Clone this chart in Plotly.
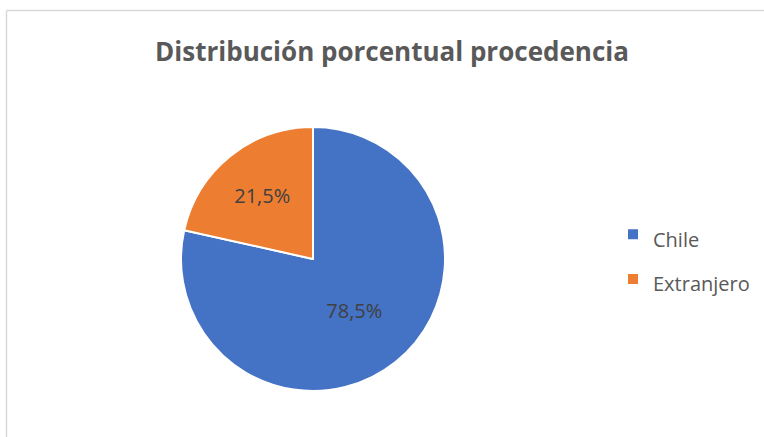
import plotly.graph_objects as go

labels = ["Chile", "Extranjero"]
values = [78.5, 21.5]
colors = ["#4472C4", "#ED7D31"]
title_text = "Distribución porcentual procedencia"

W, H = 764, 437
text_labels = [f"{v:.1f}%".replace(".", ",") for v in values]
legend_labels = [f"<span style='font-size:20px'>{l}</span>" for l in labels]

cx, cy, r = 313, 259, 132

fig = go.Figure(go.Pie(
    labels=legend_labels,
    values=values,
    text=text_labels,
    textinfo="text",
    textposition="inside",
    insidetextorientation="horizontal",
    textfont=dict(family="Open Sans", size=20, color="#404040"),
    marker=dict(colors=colors, line=dict(color="white", width=2)),
    sort=False,
    direction="clockwise",
    rotation=0,
    hovertemplate="%{text}<extra></extra>",
    domain=dict(x=[(cx - r) / W, (cx + r) / W], y=[1 - (cy + r) / H, 1 - (cy - r) / H]),
))

fig.update_layout(
    width=W, height=H,
    margin=dict(l=0, r=0, t=0, b=0),
    paper_bgcolor="white",
    title=dict(text=f"<b>{title_text}</b>", x=392 / W, xanchor="center", y=1 - 52 / H, yanchor="middle",
               font=dict(family="Open Sans", size=26, color="#595959")),
    legend=dict(x=613 / W, xanchor="left", y=1 - 257 / H, yanchor="middle",
                font=dict(family="Open Sans", size=32, color="#595959"), itemwidth=30),
    shapes=[
        dict(type="line", xref="paper", yref="paper", x0=6.5 / W, x1=1.05, y0=1 - 10.5 / H, y1=1 - 10.5 / H,
             line=dict(color="#D9D9D9", width=1.5)),
        dict(type="line", xref="paper", yref="paper", x0=6.5 / W, x1=6.5 / W, y0=-0.05, y1=1 - 10.5 / H,
             line=dict(color="#D9D9D9", width=1.5)),
    ],
)

fig.write_html("out.html", config={"displayModeBar": False},
               post_script="document.body.style.margin='0';document.body.style.overflow='hidden';")
